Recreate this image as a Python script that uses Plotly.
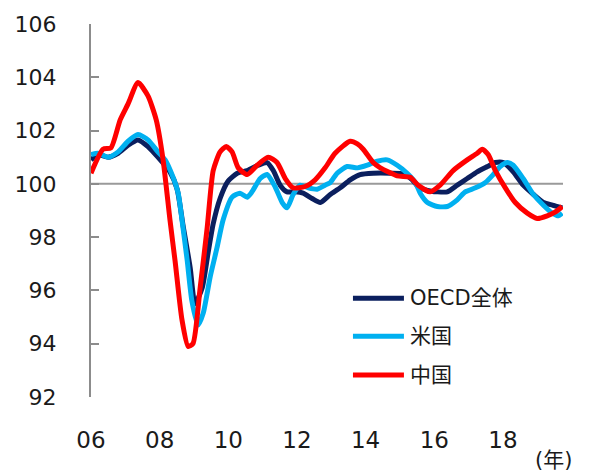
import plotly.graph_objects as go

# Decimal-year positions and values
oecd_x = [2006.00, 2006.20, 2006.50, 2006.79, 2007.08, 2007.37, 2007.66, 2007.95,
          2008.30, 2008.51, 2008.68, 2008.89, 2009.03, 2009.24, 2009.41, 2009.56,
          2009.76, 2009.99, 2010.26, 2010.55, 2010.87, 2011.13, 2011.31, 2011.51,
          2011.71, 2011.95, 2012.18, 2012.44, 2012.68, 2012.97, 2013.26, 2013.55,
          2013.84, 2014.22, 2014.72, 2015.10, 2015.36, 2015.53, 2015.80, 2016.09,
          2016.38, 2016.67, 2016.96, 2017.25, 2017.55, 2017.78, 2018.01, 2018.30,
          2018.59, 2018.89, 2019.18, 2019.44, 2019.73]
oecd_y = [100.9, 101.1, 101.0, 101.15, 101.45, 101.65, 101.4, 101.0,
          100.45, 99.8, 98.45, 96.85, 95.5, 96.1, 97.4, 98.5,
          99.45, 100.1, 100.4, 100.5, 100.7, 100.8, 100.5, 99.95,
          99.7, 99.7, 99.65, 99.45, 99.3, 99.6, 99.85, 100.15,
          100.35, 100.4, 100.4, 100.37, 100.15, 99.9, 99.75, 99.7,
          99.7, 99.95, 100.2, 100.45, 100.65, 100.8, 100.8, 100.45,
          99.95, 99.6, 99.3, 99.2, 99.1]

us_x = [2006.00, 2006.20, 2006.50, 2006.79, 2007.08, 2007.37, 2007.66, 2007.95,
        2008.16, 2008.39, 2008.54, 2008.65, 2008.80, 2008.94, 2009.12, 2009.27,
        2009.47, 2009.67, 2009.85, 2010.11, 2010.34, 2010.55, 2010.69, 2010.93,
        2011.13, 2011.36, 2011.57, 2011.71, 2011.89, 2012.09, 2012.33, 2012.59,
        2012.82, 2012.97, 2013.17, 2013.46, 2013.76, 2014.05, 2014.34, 2014.63,
        2014.92, 2015.21, 2015.45, 2015.59, 2015.80, 2016.09, 2016.38, 2016.67,
        2016.90, 2017.20, 2017.49, 2017.72, 2017.92, 2018.13, 2018.30, 2018.59,
        2018.89, 2019.18, 2019.44, 2019.62, 2019.73]
us_y = [101.1, 101.15, 101.0, 101.2, 101.6, 101.85, 101.65, 101.2,
        100.9, 100.25, 99.65, 98.65, 97.15, 95.6, 94.7, 95.15,
        96.5, 97.6, 98.65, 99.5, 99.65, 99.5, 99.7, 100.2,
        100.35, 99.9, 99.3, 99.1, 99.6, 99.95, 99.85, 99.8,
        99.95, 100.05, 100.4, 100.65, 100.6, 100.7, 100.85, 100.9,
        100.7, 100.4, 100.05, 99.65, 99.3, 99.15, 99.15, 99.4,
        99.7, 99.85, 100.05, 100.35, 100.65, 100.8, 100.7, 100.2,
        99.6, 99.2, 98.9, 98.8, 98.9]

china_x = [2006.00, 2006.35, 2006.58, 2006.85, 2007.08, 2007.37, 2007.66, 2007.90,
           2008.10, 2008.30, 2008.45, 2008.65, 2008.83, 2008.97, 2009.18, 2009.38,
           2009.56, 2009.76, 2009.94, 2010.11, 2010.29, 2010.55, 2010.84, 2011.16,
           2011.42, 2011.66, 2011.89, 2012.24, 2012.53, 2012.82, 2013.11, 2013.55,
           2013.76, 2013.93, 2014.22, 2014.43, 2014.92, 2015.30, 2015.53, 2015.88,
           2016.17, 2016.55, 2016.96, 2017.25, 2017.40, 2017.57, 2017.78, 2018.07,
           2018.36, 2018.71, 2019.00, 2019.29, 2019.53, 2019.73]
china_y = [100.4, 101.3, 101.35, 102.4, 103.0, 103.8, 103.3, 102.4,
           100.9, 98.65, 97.1, 94.9, 93.9, 94.0, 96.1, 98.3,
           100.5, 101.2, 101.4, 101.2, 100.6, 100.35, 100.7, 101.0,
           100.8, 100.2, 99.85, 99.9, 100.15, 100.6, 101.15, 101.6,
           101.5, 101.3, 100.8, 100.6, 100.3, 100.25, 99.95, 99.7,
           99.95, 100.5, 100.9, 101.15, 101.3, 101.1, 100.5, 99.85,
           99.3, 98.9, 98.7, 98.8, 98.95, 99.15]

series_names = ["OECD全体", "米国", "中国"]
x_tickvals = [2006, 2008, 2010, 2012, 2014, 2016, 2018]
x_ticktext = ["06", "08", "10", "12", "14", "16", "18"]
y_tickvals = [92, 94, 96, 98, 100, 102, 104, 106]

FONT = "DejaVu Sans, Noto Sans CJK JP, sans-serif"
COLORS = ["#0B1F5E", "#00B0F0", "#FF0000"]

fig = go.Figure()
for name, xs, ys, col in zip(series_names, [oecd_x, us_x, china_x],
                             [oecd_y, us_y, china_y], COLORS):
    fig.add_trace(go.Scatter(
        x=xs, y=ys, mode="lines", name=name, showlegend=False,
        line=dict(color=col, width=5, shape="spline", smoothing=0.6),
    ))

# reference line at 100
fig.add_shape(type="line", xref="paper", yref="y", x0=0, x1=1, y0=100, y1=100,
              line=dict(color="#9A9A9A", width=2), layer="below")

# legend drawn as line samples + text labels
legend_rows = [0.265, 0.163, 0.059]
annotations = []
for name, col, yr in zip(series_names, COLORS, legend_rows):
    fig.add_shape(type="line", xref="paper", yref="paper", x0=0.555, x1=0.663,
                  y0=yr, y1=yr, line=dict(color=col, width=5))
    annotations.append(dict(text=name, xref="paper", yref="paper", x=0.671, y=yr,
                            xanchor="left", yanchor="middle", showarrow=False,
                            font=dict(size=21, color="#1a1a1a")))
annotations.append(dict(text="(年)", xref="paper", yref="paper", x=0.979, y=-0.17,
                        xanchor="center", yanchor="middle", showarrow=False,
                        font=dict(size=21, color="#1a1a1a")))

# the page body adds an 8px offset, so the figure is 8px smaller than the window
fig.update_layout(
    width=581, height=466,
    margin=dict(l=83, r=26, t=16, b=77, autoexpand=False),
    paper_bgcolor="white", plot_bgcolor="white",
    font=dict(family=FONT, size=23, color="#1a1a1a"),
    showlegend=False,
    xaxis=dict(range=[2006, 2019.75], tickvals=x_tickvals, ticktext=x_ticktext,
               showgrid=False, zeroline=False, showline=False, ticks="",
               ticklabelstandoff=27, automargin=False),
    yaxis=dict(range=[92, 106], tickvals=y_tickvals, showgrid=False, zeroline=False,
               showline=True, linecolor="#8C8C8C", linewidth=2,
               ticks="inside", ticklen=8, tickcolor="#8C8C8C", tickwidth=2,
               ticklabelstandoff=28, tickfont=dict(size=22), automargin=False),
    annotations=annotations,
)

fig.write_html("out.html")
